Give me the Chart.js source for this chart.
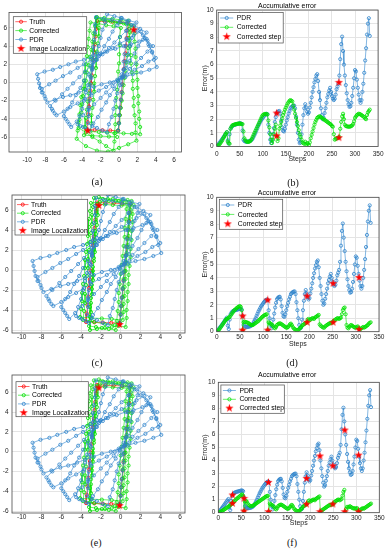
<!DOCTYPE html>
<html>
<head>
<meta charset="utf-8">
<script src="https://cdn.jsdelivr.net/npm/chart.js@4.4.1/dist/chart.umd.min.js"></script>
<style>
  html, body { margin: 0; padding: 0; background: #fff; width: 387px; height: 550px; overflow: hidden; position: relative; }
  canvas { position: absolute; }
  .lab { position: absolute; font-family: "Liberation Serif", "Times New Roman", serif; font-size: 10px; color: #111; transform: translate(-50%, -50%); white-space: nowrap; }
</style>
</head>
<body>
<canvas id="chartA"></canvas>
<canvas id="chartB"></canvas>
<canvas id="chartC"></canvas>
<canvas id="chartD"></canvas>
<canvas id="chartE"></canvas>
<canvas id="chartF"></canvas>
<div class="lab" style="left:97px;top:181px">(a)</div>
<div class="lab" style="left:293px;top:182px">(b)</div>
<div class="lab" style="left:97px;top:362px">(c)</div>
<div class="lab" style="left:292px;top:362px">(d)</div>
<div class="lab" style="left:96px;top:542px">(e)</div>
<div class="lab" style="left:292px;top:542px">(f)</div>
<script>
// ---- trajectory data (metres) ----
const truthX = [-0.1,-0.02,0.06,0.14,0.21,0.29,0.37,0.45,0.53,0.61,0.69,0.76,0.84,0.92,1.0,
  0.15,-0.7,-1.55,-2.4,
  -2.48,-2.56,-2.64,-2.71,-2.79,-2.87,-2.95,-3.03,-3.11,-3.19,-3.26,-3.34,-3.42,-3.5,
  -2.65,-1.8,-0.95,-0.1];
const truthY = [-5.3,-4.45,-3.6,-2.75,-1.9,-1.05,-0.2,0.65,1.5,2.35,3.2,4.05,4.9,5.75,6.6,
  6.64,6.68,6.71,6.75,
  5.9,5.04,4.19,3.33,2.48,1.63,0.78,-0.08,-0.93,-1.79,-2.64,-3.49,-4.35,-5.2,
  -5.23,-5.25,-5.28,-5.3];

const pdrX = [-0.1,
  0.0,0.0,0.1,0.2,0.3,0.3,0.4,0.5,0.5,0.6,0.7,0.8,0.8,0.9, 0.1,-0.8,-1.7,-2.5,
  -2.6,-2.6,-2.7,-2.8,-2.8,-2.9,-2.9,-3.0,-3.1,-3.1,-3.2,-3.3,-3.3,-3.4, -2.9,-2.4,-1.8,-1.3,
  -1.1,-0.8,-0.6,-0.4,-0.2,0.1,0.3,0.5,0.8,1.0,1.2,1.4,1.7,1.9, 1.1,0.3,-0.5,-1.3,
  -1.5,-1.8,-2.0,-2.2,-2.4,-2.7,-2.9,-3.1,-3.4,-3.6,-3.8,-4.0,-4.3,-4.5, -4.2,-3.9,-3.5,-3.2,
  -2.8,-2.3,-1.9,-1.4,-1.0,-0.5,-0.1,0.3,0.8,1.2,1.7,2.1,2.6,3.0, 2.3,1.6,0.9,0.2,
  -0.2,-0.7,-1.1,-1.6,-2.0,-2.5,-2.9,-3.3,-3.8,-4.2,-4.7,-5.1,-5.6,-6.0, -5.8,-5.6,-5.4,-5.2,
  -4.6,-3.9,-3.3,-2.7,-2.0,-1.4,-0.7,-0.1,0.5,1.2,1.8,2.4,3.1,3.7, 3.1,2.6,2.0,1.4,
  0.8,0.1,-0.5,-1.1,-1.8,-2.4,-3.1,-3.7,-4.3,-5.0,-5.6,-6.2,-6.9,-7.5, -7.3,-7.2,-7.0,-6.8,
  -6.0,-5.3,-4.5,-3.7,-3.0,-2.2,-1.4,-0.6,0.1,0.9,1.7,2.5,3.2,4.0, 3.6,3.2,2.8,2.4,
  1.6,0.9,0.1,-0.7,-1.5,-2.2,-3.0,-3.8,-4.5,-5.3,-6.1,-6.9,-7.6,-8.4, -8.3,-8.1,-8.0,-7.8,
  -7.0,-6.1,-5.3,-4.4,-3.6,-2.7,-1.9,-1.0,-0.2,0.7,1.5,2.4,3.3,4.1, 3.8,3.6,3.3,3.0,
  2.2,1.3,0.5,-0.4,-1.3,-2.1,-3.0,-3.8,-4.7,-5.5,-6.4,-7.2,-8.1,-8.9, -8.8,-8.7,-8.6,-8.4];
const pdrY = [-5.3,
  -4.5,-3.6,-2.8,-1.9,-1.1,-0.2,0.6,1.4,2.3,3.1,4.0,4.8,5.7,6.5, 6.7,6.9,7.0,7.2,
  6.4,5.5,4.7,3.9,3.0,2.2,1.4,0.5,-0.3,-1.2,-2.0,-2.8,-3.7,-4.5, -4.8,-5.0,-5.3,-5.5,
  -4.6,-3.8,-2.9,-2.0,-1.2,-0.3,0.5,1.4,2.3,3.1,4.0,4.9,5.7,6.6, 6.8,7.1,7.3,7.5,
  6.6,5.8,4.9,4.0,3.2,2.3,1.5,0.6,-0.3,-1.1,-2.0,-2.9,-3.7,-4.6, -4.8,-4.9,-5.1,-5.3,
  -4.5,-3.8,-3.0,-2.2,-1.4,-0.7,0.1,0.9,1.6,2.4,3.2,4.0,4.7,5.5, 5.9,6.3,6.7,7.1,
  6.3,5.6,4.8,4.0,3.2,2.5,1.7,0.9,0.2,-0.6,-1.4,-2.2,-2.9,-3.7, -4.0,-4.3,-4.6,-4.9,
  -4.3,-3.6,-3.0,-2.4,-1.7,-1.1,-0.4,0.2,0.8,1.5,2.1,2.7,3.4,4.0, 4.6,5.2,5.7,6.3,
  5.7,5.0,4.4,3.8,3.1,2.5,1.8,1.2,0.6,-0.1,-0.7,-1.3,-2.0,-2.6, -2.9,-3.1,-3.4,-3.6,
  -3.2,-2.7,-2.3,-1.8,-1.4,-0.9,-0.5,0.0,0.5,0.9,1.4,1.8,2.3,2.7, 3.4,4.2,4.9,5.6,
  5.2,4.7,4.3,3.8,3.4,2.9,2.5,2.0,1.6,1.1,0.7,0.2,-0.2,-0.7, -1.1,-1.5,-1.8,-2.2,
  -1.9,-1.6,-1.4,-1.1,-0.8,-0.5,-0.2,0.0,0.3,0.6,0.9,1.1,1.4,1.7, 2.5,3.3,4.0,4.8,
  4.5,4.2,4.0,3.7,3.4,3.1,2.8,2.5,2.3,2.0,1.7,1.4,1.2,0.9, 0.4,-0.1,-0.6,-1.1];

// corrected track of panel (a)
const corrAX = [-0.1,
  0.0,0.1,0.2,0.3,0.4,0.5,0.6,0.7,0.8,0.9,1.0,1.1,1.2,1.3, 0.5,-0.4,-1.3,-2.1,
  -2.2,-2.2,-2.3,-2.4,-2.5,-2.5,-2.6,-2.7,-2.7,-2.8,-2.9,-3.0,-3.0,-3.1, -2.2,-1.3,-0.4,0.5,1.4,2.3,
  2.3,2.2,2.2,2.1,2.1,2.0,2.0,1.9,1.9,1.8,1.8,1.7,1.7,1.6, 0.8,0.0,-0.9,-1.7,-2.5,
  -2.6,-2.8,-2.9,-3.0,-3.2,-3.3,-3.5,-3.6,-3.7,-3.9,-4.0,-4.1,-4.3,-4.4, -3.6,-2.9,-2.1,-1.4,-0.6,
  -0.5,-0.5,-0.4,-0.4,-0.3,-0.3,-0.2,-0.1,-0.1,0.0,0.0,0.1,0.1,0.2, -0.6,-1.4,-2.3,-3.1,
  -3.2,-3.3,-3.4,-3.5,-3.6,-3.7,-3.8,-3.9,-4.1,-4.2,-4.3,-4.4,-4.5,-4.6, -3.6,-2.4,-1.2,0.0,1.0,1.9,
  1.8,1.8,1.7,1.6,1.6,1.5,1.5,1.4,1.3,1.3,1.2,1.1,1.1,1.0, 0.2,-0.7,-1.6,-2.4,
  -2.5,-2.6,-2.7,-2.8,-2.9,-3.0,-3.1,-3.2,-3.3,-3.4,-3.5,-3.6,-3.7,-3.8, -2.9,-2.0,-1.1,-0.2];
const corrAY = [-5.3,
  -4.5,-3.6,-2.8,-2.0,-1.2,-0.3,0.5,1.3,2.2,3.0,3.8,4.6,5.5,6.3, 6.5,6.6,6.8,6.9,
  6.0,5.1,4.3,3.4,2.5,1.6,0.7,-0.1,-1.0,-1.9,-2.8,-3.6,-4.5,-5.4, -5.45,-5.5,-5.55,-5.6,-5.65,-5.7,
  -4.9,-4.0,-3.2,-2.3,-1.5,-0.6,0.3,1.1,2.0,2.8,3.7,4.5,5.4,6.2, 6.4,6.6,6.7,6.9,7.1,
  6.2,5.4,4.5,3.6,2.8,1.9,1.1,0.2,-0.7,-1.5,-2.4,-3.3,-4.1,-5.0, -5.5,-6.0,-6.5,-7.0,-7.5,
  -6.5,-5.6,-4.6,-3.6,-2.7,-1.7,-0.8,0.2,1.2,2.1,3.1,4.1,5.0,6.0, 6.2,6.3,6.5,6.6,
  5.7,4.8,3.9,2.9,2.0,1.1,0.2,-0.7,-1.6,-2.5,-3.5,-4.4,-5.3,-6.2, -7.0,-7.5,-7.6,-7.2,-6.8,-6.4,
  -5.5,-4.5,-3.6,-2.6,-1.7,-0.7,0.2,1.1,2.1,3.0,4.0,4.9,5.9,6.8, 6.9,7.0,7.1,7.2,
  6.3,5.3,4.4,3.5,2.6,1.6,0.7,-0.2,-1.2,-2.1,-3.0,-3.9,-4.9,-5.8, -5.85,-5.9,-5.95,-6.0];

// corrected track of panels (c) and (e)
const corrCX = [-0.1,
  0.0,0.1,0.2,0.2,0.3,0.4,0.5,0.6,0.7,0.8,0.8,0.9,1.0,1.1, 0.2,-0.8,-1.8,-2.7,
  -2.8,-2.9,-2.9,-3.0,-3.1,-3.2,-3.3,-3.3,-3.4,-3.5,-3.6,-3.6,-3.7,-3.8, -2.7,-1.6,-0.6,0.5,
  0.6,0.6,0.7,0.7,0.8,0.8,0.9,1.0,1.0,1.1,1.1,1.2,1.2,1.3, 0.4,-0.5,-1.3,-2.2,
  -2.3,-2.3,-2.4,-2.5,-2.6,-2.6,-2.7,-2.8,-2.8,-2.9,-3.0,-3.1,-3.1,-3.2, -2.5,-1.9,-1.2,-0.5,
  -0.4,-0.3,-0.2,-0.2,-0.1,0.0,0.1,0.2,0.3,0.4,0.4,0.5,0.6,0.7, -0.2,-1.2,-2.1,-3.0,
  -3.1,-3.2,-3.2,-3.3,-3.4,-3.5,-3.6,-3.6,-3.7,-3.8,-3.9,-3.9,-4.0,-4.1, -3.0,-1.9,-0.9,0.2,
  0.3,0.3,0.4,0.4,0.5,0.5,0.6,0.6,0.7,0.7,0.8,0.8,0.9,0.9, 0.1,-0.8,-1.6,-2.4,
  -2.5,-2.5,-2.6,-2.6,-2.7,-2.7,-2.8,-2.8,-2.9,-2.9,-3.0,-3.0,-3.1,-3.1, -2.4,-1.6,-0.9,-0.2];
const corrCY = [-5.3,
  -4.4,-3.6,-2.7,-1.8,-0.9,-0.1,0.8,1.7,2.5,3.4,4.3,5.2,6.0,6.9, 7.0,7.1,7.1,7.2,
  6.3,5.5,4.6,3.7,2.8,2.0,1.1,0.2,-0.6,-1.5,-2.4,-3.3,-4.1,-5.0, -5.2,-5.4,-5.5,-5.7,
  -4.8,-4.0,-3.1,-2.2,-1.4,-0.5,0.4,1.3,2.1,3.0,3.9,4.8,5.6,6.5, 6.7,6.9,7.1,7.3,
  6.4,5.5,4.5,3.6,2.7,1.8,0.9,-0.1,-1.0,-1.9,-2.8,-3.7,-4.7,-5.6, -5.7,-5.8,-5.9,-6.0,
  -5.1,-4.1,-3.2,-2.3,-1.4,-0.4,0.5,1.4,2.4,3.3,4.2,5.1,6.1,7.0, 6.9,6.9,6.8,6.7,
  5.9,5.1,4.3,3.4,2.6,1.8,1.0,0.2,-0.6,-1.4,-2.3,-3.1,-3.9,-4.7, -4.8,-4.85,-4.9,-5.0,
  -4.2,-3.4,-2.6,-1.7,-0.9,-0.1,0.7,1.5,2.3,3.1,4.0,4.8,5.6,6.4, 6.45,6.5,6.55,6.6,
  5.7,4.8,3.9,3.0,2.1,1.2,0.3,-0.6,-1.5,-2.4,-3.3,-4.2,-5.1,-6.0, -5.9,-5.8,-5.7,-5.6];

const locAX = [1.6, -3.4];
const locAY = [5.8, -5.3];
const locCX = [-2.2, -0.1];
const locCY = [6.45, -5.45];

// ---- accumulative error data (every 2nd step) ----
const pdrErr = [
  0,0.08,0.17,0.27,0.36,0.45,0.55,0.65,0.75,0.85,
  0.95,1.05,0.45,0.2,0.9,1.3,1.42,1.5,1.55,1.58,
  1.6,1.62,1.64,1.66,1.68,1.7,1.7,1.65,1.17,0.5,
  0.4,0.37,0.35,0.35,0.36,0.38,0.4,0.44,0.5,0.58,
  0.72,0.86,1.0,1.17,1.33,1.5,1.63,1.77,1.9,2.0,
  2.1,2.2,2.28,2.35,2.4,2.36,1.6,1.0,0.5,0.25,
  0.45,0.9,1.35,1.8,2.15,2.42,2.52,2.58,2.6,2.4,
  1.9,1.4,1.15,1.1,1.3,1.6,1.9,2.15,2.4,2.6,
  2.8,2.88,2.95,2.98,3.0,2.8,2.2,1.6,1.0,0.5,
  0.25,0.3,0.9,1.6,2.3,2.8,3.1,2.85,2.55,2.4,
  2.5,2.85,3.2,3.6,4.0,4.35,4.7,4.95,5.2,5.3,
  4.8,4.0,3.4,2.8,2.3,2.0,2.1,2.45,2.8,3.2,
  3.6,3.85,4.1,4.3,4.0,3.7,3.5,3.4,3.5,3.8,
  4.2,4.4,4.6,5.2,6.4,7.5,8.05,7.0,6.0,5.2,
  4.5,3.9,3.4,3.1,2.9,2.95,3.2,3.7,4.3,5.0,
  5.6,5.5,4.9,4.3,3.8,3.4,3.2,3.4,4.0,4.6,
  5.4,6.3,7.2,8.2,9.0,9.4,8.1];
const corrErrB = [
  0,0.05,0.1,0.15,0.25,0.35,0.45,0.6,0.7,0.85,
  0.95,1.05,0.35,0.25,0.2,1.3,1.45,1.55,1.58,1.6,
  1.62,1.64,1.66,1.67,1.68,1.68,1.67,1.65,1.64,1.1,
  0.6,0.45,0.38,0.35,0.34,0.35,0.38,0.45,0.55,0.7,
  0.85,1.0,1.15,1.3,1.45,1.6,1.75,1.9,2.05,2.2,
  2.3,2.35,2.38,2.38,2.37,2.35,1.9,1.4,0.9,0.5,
  0.25,0.5,0.9,1.3,1.6,0.75,0.4,0.6,1.3,1.55,
  1.8,2.05,2.3,2.5,2.7,2.85,3.0,3.15,3.25,3.35,
  3.4,3.35,3.3,3.0,2.7,2.4,2.1,1.8,1.5,1.2,
  0.9,0.7,0.5,0.3,0.25,0.2,0.35,0.15,0.25,0.2,
  0.1,0.3,0.6,0.85,1.1,1.35,1.6,1.8,1.95,2.1,
  2.15,2.2,2.2,2.15,2.1,2.05,2.0,1.95,1.9,1.85,
  1.8,1.75,1.7,1.65,1.6,1.5,1.45,0.9,0.5,0.55,
  0.6,0.62,0.65,0.7,1.3,1.8,2.2,2.4,2.0,1.6,
  1.5,1.48,1.46,1.45,1.45,1.47,1.5,1.55,1.65,1.85,
  2.1,2.2,2.3,2.35,2.4,2.38,2.35,2.3,2.25,2.2,
  2.15,2.05,2.0,2.3,2.5,2.6,2.7];
const corrErrD = [
  0,0.05,0.12,0.2,0.3,0.4,0.5,0.6,0.7,0.8,
  0.9,0.95,1.0,1.05,1.1,1.2,1.3,1.4,1.5,1.6,
  1.65,1.72,1.78,1.83,1.88,1.9,1.85,1.6,0.12,0.7,
  0.75,0.72,0.7,0.68,0.65,0.6,0.55,0.5,0.48,0.5,
  0.55,0.6,0.65,0.7,0.75,0.8,0.88,0.95,1.02,1.1,
  1.15,1.2,1.25,1.28,1.3,0.12,0.7,0.65,0.6,0.55,
  0.5,0.4,0.3,0.25,0.35,0.5,0.55,0.6,0.62,0.6,
  0.55,0.5,0.45,0.4,0.35,0.3,0.3,0.35,0.45,0.55,
  0.6,0.5,0.35,0.25,0.2,0.15,0.12,0.1,0.15,0.2,
  0.28,0.35,0.45,0.5,0.55,0.6,0.65,0.7,0.9,0.95,
  0.85,0.9,0.95,1.0,1.0,0.95,1.05,1.1,1.15,1.2,
  1.25,0.55,0.45,0.4,0.35,0.3,0.3,0.4,0.45,0.5,
  0.55,0.6,0.62,0.65,0.68,0.7,0.8,0.85,0.9,0.95,
  1.0,1.0,0.95,1.0,1.05,1.3,1.6,1.75,1.8,1.3,
  0.5,0.3,0.25,0.35,0.45,0.5,0.45,0.4,0.35,0.3,
  0.3,0.35,0.4,0.3,0.2,0.2,0.25,0.3,0.35,0.3,
  0.35,0.4,0.45,0.5,0.6,0.65,0.7];
const corrErrF = [
  0,0.03,0.06,0.1,0.14,0.18,0.22,0.27,0.32,0.37,
  0.42,0.47,0.52,0.58,0.64,0.7,0.78,0.85,0.92,1.0,
  1.06,1.12,1.18,1.24,1.3,1.36,1.4,1.3,0.13,0.85,
  0.9,0.85,0.7,0.6,0.55,0.5,0.5,0.52,0.55,0.6,
  0.65,0.7,0.75,0.8,0.85,0.9,0.95,1.0,1.05,1.1,
  1.15,1.2,1.25,1.28,1.3,0.08,0.7,0.65,0.6,0.55,
  0.5,0.4,0.3,0.25,0.35,0.5,0.55,0.6,0.62,0.6,
  0.55,0.5,0.45,0.4,0.35,0.3,0.3,0.35,0.45,0.55,
  0.6,0.5,0.35,0.25,0.2,0.15,0.12,0.1,0.15,0.2,
  0.28,0.35,0.45,0.5,0.55,0.6,0.66,0.75,0.9,0.95,
  0.85,0.9,0.95,1.0,1.0,0.95,1.05,1.1,1.15,1.2,
  1.25,0.08,0.15,0.2,0.25,0.3,0.35,0.4,0.45,0.5,
  0.55,0.58,0.6,0.62,0.64,0.66,0.8,0.85,0.9,0.95,
  1.0,1.0,0.95,1.0,1.05,1.3,1.6,1.75,0.08,0.3,
  0.45,0.4,0.45,0.5,0.45,0.4,0.35,0.35,0.3,0.35,
  0.3,0.35,0.1,0.1,0.2,0.25,0.3,0.35,0.3,0.35,
  0.4,0.45,0.5,0.55,0.6,0.65,0.7];
const steps = pdrErr.map((_, i) => i * 2);

const fixB = [130, 130, 265, 265];
const fixBErr = [2.45, 0.78, 4.7, 0.65];
const fixD = [56, 56, 110, 110, 195, 195, 251, 251, 307, 307];
const fixDErr = [1.17, 0.12, 2.36, 0.12, 2.65, 0.7, 3.6, 0.7, 4.04, 0.17];
const fixF = [31, 31, 56, 56, 109, 109, 192, 192, 221, 221, 249, 249, 275, 275, 305, 305];
const fixFErr = [1.36, 0.72, 1.1, 0.13, 2.33, 0.08, 2.63, 0.66, 4.35, 0.08, 3.6, 0.66, 6.34, 0.08, 4.42, 0.08];

// ---- styling ----
const BLUE = '#2f84cc', GREEN = '#00e000', RED = '#ff0000';
const FONT = "'Liberation Sans', Arial, sans-serif";
Chart.defaults.font.family = FONT;
Chart.defaults.color = '#262626';

const starImg = (() => {
  const c = document.createElement('canvas');
  c.width = 9; c.height = 9;
  const g = c.getContext('2d');
  g.fillStyle = RED;
  g.beginPath();
  for (let i = 0; i < 10; i++) {
    const r = i % 2 ? 1.7 : 4.3;
    const a = -Math.PI / 2 + i * Math.PI / 5;
    g.lineTo(4.5 + r * Math.cos(a), 4.6 + r * Math.sin(a));
  }
  g.closePath();
  g.fill();
  return c;
})();

function pts(xs, ys) { return xs.map((x, i) => ({ x, y: ys[i] })); }

function line(label, xs, ys, color) {
  return {
    label, data: pts(xs, ys), showLine: true,
    borderColor: color, backgroundColor: 'rgba(0,0,0,0)', borderWidth: 0.6,
    pointRadius: 1.6, pointBorderWidth: 0.8,
    pointBorderColor: color, pointBackgroundColor: 'rgba(0,0,0,0)'
  };
}
function stars(label, xs, ys) {
  return { label, data: pts(xs, ys), showLine: false, pointStyle: starImg, pointRadius: 4 };
}

const framePlugin = {
  id: 'frame',
  afterDatasetsDraw(chart) {
    const { ctx, chartArea: a } = chart;
    ctx.save();
    ctx.strokeStyle = '#4a4a4a';
    ctx.lineWidth = 0.8;
    ctx.strokeRect(a.left, a.top, a.right - a.left, a.bottom - a.top);
    ctx.restore();
  }
};

// legend drawn inside the plot box, top-left, like the MATLAB one
const boxLegend = {
  id: 'boxLegend',
  afterDraw(chart, args, o) {
    const { ctx, chartArea: a } = chart;
    const x = a.left + o.dx, y = a.top + o.dy;
    ctx.save();
    ctx.fillStyle = '#fff';
    ctx.fillRect(x, y, o.w, o.h);
    ctx.strokeStyle = '#4a4a4a';
    ctx.lineWidth = 0.7;
    ctx.strokeRect(x, y, o.w, o.h);
    ctx.font = '6.8px ' + FONT;
    ctx.textBaseline = 'middle';
    o.items.forEach((it, i) => {
      const cy = y + o.first + i * o.gap;
      const mx = x + (o.lx0 + o.lx1) / 2;
      if (it.color) {
        ctx.strokeStyle = it.color;
        ctx.lineWidth = 0.6;
        ctx.beginPath(); ctx.moveTo(x + o.lx0, cy); ctx.lineTo(x + o.lx1, cy); ctx.stroke();
        ctx.lineWidth = 0.8;
        ctx.beginPath(); ctx.arc(mx, cy, 1.6, 0, Math.PI * 2); ctx.stroke();
      } else {
        ctx.drawImage(starImg, mx - 4.5, cy - 4.5);
      }
      ctx.fillStyle = '#000';
      ctx.fillText(it.text, x + o.tx, cy + 0.3);
    });
    ctx.restore();
  }
};

const trajItems = [
  { text: 'Truth', color: RED },
  { text: 'Corrected', color: GREEN },
  { text: 'PDR', color: BLUE },
  { text: 'Image Localization' }
];
const errItems = [
  { text: 'PDR', color: BLUE },
  { text: 'Corrected', color: GREEN },
  { text: 'Corrected step' }
];

function axis(min, max, step, pad, extra) {
  return Object.assign({
    type: 'linear', min, max,
    ticks: { stepSize: step, includeBounds: false, autoSkip: false, maxRotation: 0, padding: pad, font: { size: 6.5 }, color: '#262626' },
    grid: { color: '#e4e4e4', lineWidth: 1, drawTicks: false },
    border: { display: false }
  }, extra || {});
}

function makeChart(id, box, plot, o) {
  const cv = document.getElementById(id);
  cv.width = box.w; cv.height = box.h;
  cv.style.left = box.left + 'px'; cv.style.top = box.top + 'px';
  const titleH = o.title ? o.title.h : 0;
  const yW = plot.l - box.left;
  const xH = box.top + box.h - plot.b;
  const xs = o.x, ys = o.y;
  xs.afterFit = s => { s.height = xH; };
  ys.afterFit = s => { s.width = yW; };
  return new Chart(cv, {
    type: 'scatter',
    data: { datasets: o.datasets },
    options: {
      responsive: false, animation: false, devicePixelRatio: 1,
      layout: { autoPadding: false, padding: { left: 0, top: plot.t - box.top - titleH, right: box.left + box.w - plot.r, bottom: 0 } },
      elements: { line: { tension: 0 } },
      scales: { x: xs, y: ys },
      plugins: {
        legend: { display: false },
        tooltip: { enabled: false },
        title: o.title ? {
          display: true, text: 'Accumulative error', color: '#000',
          font: { size: 7, weight: 'normal', lineHeight: 1 },
          padding: { top: 2.5, bottom: o.title.h - 9.5 }
        } : { display: false },
        boxLegend: o.legend
      }
    },
    plugins: [framePlugin, boxLegend]
  });
}

function trajChart(id, box, plot, xr, yr, corrX, corrY, locX, locY, pads, legend) {
  return makeChart(id, box, plot, {
    x: axis(xr[0], xr[1], 2, pads[0]),
    y: axis(yr[0], yr[1], 2, pads[1]),
    legend: Object.assign({ lx0: 2, lx1: 13.5, tx: 16, items: trajItems }, legend),
    datasets: [
      stars('Image Localization', locX, locY),
      line('PDR', pdrX, pdrY, BLUE),
      line('Corrected', corrX, corrY, GREEN),
      line('Truth', truthX, truthY, RED)
    ]
  });
}

function errChart(id, box, plot, corr, fixX, fixY, o) {
  return makeChart(id, box, plot, {
    title: { h: o.titleH },
    x: axis(0, 350, 50, o.xpad, { title: { display: true, text: 'Steps', color: '#262626', font: { size: 7, lineHeight: 1 }, padding: { top: 0, bottom: o.stepsPad } } }),
    y: axis(0, 10, 1, 3, { title: { display: true, text: 'Error(m)', color: '#262626', font: { size: 7, lineHeight: 1 }, padding: { top: 6.5, bottom: 0 } } }),
    legend: Object.assign({ lx0: 2, lx1: 15, tx: 18.5, items: errItems }, o.legend),
    datasets: [
      stars('Corrected step', fixX, fixY),
      line('Corrected', steps, corr, GREEN),
      line('PDR', steps, pdrErr, BLUE)
    ]
  });
}

trajChart('chartA', { left: 0, top: 0, w: 195, h: 170 }, { l: 9, t: 12.5, r: 181.5, b: 152 },
  [-11.97, 6.8], [-7.65, 7.7], corrAX, corrAY, locAX, locAY, [4.5, 2],
  { dx: 4.3, dy: 4.2, w: 73.4, h: 36.6, first: 5, gap: 8.9 });
trajChart('chartC', { left: 0, top: 180, w: 195, h: 170 }, { l: 12, t: 195, r: 185, b: 333 },
  [-10.98, 6.5], [-6.3, 7.5], corrCX, corrCY, locCX, locCY, [0.8, 3.5],
  { dx: 3, dy: 4.3, w: 72.7, h: 35.7, first: 5.3, gap: 8.6 });
trajChart('chartE', { left: 0, top: 360, w: 195, h: 170 }, { l: 12, t: 375, r: 185, b: 513 },
  [-10.98, 6.5], [-6.2, 7.75], corrCX, corrCY, locCX, locCY, [0.8, 3.5],
  { dx: 4, dy: 6.7, w: 72.3, h: 35, first: 4.8, gap: 8.7 });

errChart('chartB', { left: 195, top: 0, w: 192, h: 170 }, { l: 216.7, t: 10, r: 379.3, b: 146.5 },
  corrErrB, fixB, fixBErr,
  { titleH: 10, xpad: 3.5, stepsPad: 7.2, legend: { dx: 1.5, dy: 2.5, w: 65, h: 30.5, first: 5.5, gap: 9.3 } });
errChart('chartD', { left: 195, top: 180, w: 192, h: 170 }, { l: 216.7, t: 197.3, r: 379, b: 331.7 },
  corrErrD, fixD, fixDErr,
  { titleH: 10.5, xpad: 2, stepsPad: 2.5, legend: { dx: 2.6, dy: 2, w: 63.4, h: 30, first: 5.7, gap: 9.4 } });
errChart('chartF', { left: 195, top: 360, w: 192, h: 170 }, { l: 218.3, t: 382.3, r: 379.3, b: 512.7 },
  corrErrF, fixF, fixFErr,
  { titleH: 13, xpad: 1.5, stepsPad: 3.2, legend: { dx: 2.6, dy: 2.7, w: 63.4, h: 28.3, first: 5.5, gap: 8.8 } });
</script>
</body>
</html>
